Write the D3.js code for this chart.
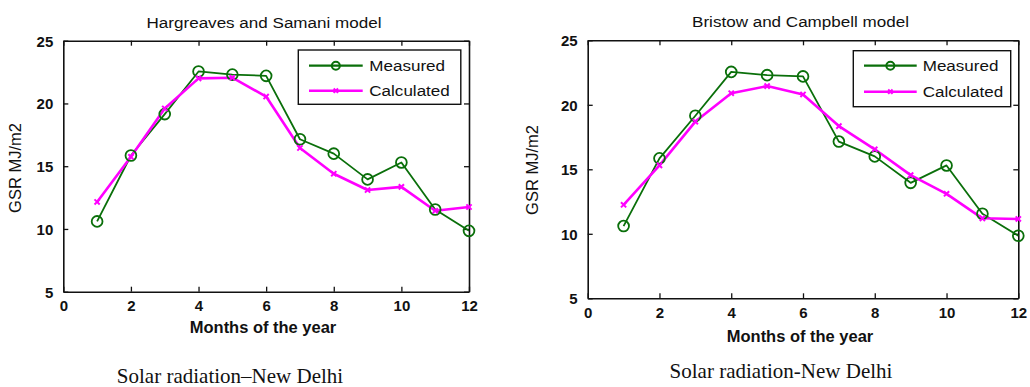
<!DOCTYPE html>
<html>
<head>
<meta charset="utf-8">
<script src="https://cdn.jsdelivr.net/npm/d3@7"></script>
<style>
  html, body { margin: 0; padding: 0; background: #ffffff; }
  svg { display: block; }
</style>
</head>
<body>
<svg id="chart" width="1030" height="387"></svg>
<script>
// ---------------- data ----------------
const months = [1, 2, 3, 4, 5, 6, 7, 8, 9, 10, 11, 12];
const measured = [10.6, 15.85, 19.15, 22.55, 22.3, 22.2, 17.15, 16.0, 13.95, 15.3, 11.55, 9.85];
const calcHargreaves = [12.15, 15.75, 19.6, 22.0, 22.05, 20.55, 16.45, 14.4, 13.1, 13.35, 11.45, 11.75];
const calcBristow = [12.25, 15.3, 18.7, 20.9, 21.45, 20.8, 18.35, 16.55, 14.55, 13.1, 11.2, 11.15];
const xTickValues = [0, 2, 4, 6, 8, 10, 12];
const yTickValues = [5, 10, 15, 20, 25];
const seriesNames = ["Measured", "Calculated"];
const titles = ["Hargreaves and Samani model", "Bristow and Campbell model"];
const captions = ["Solar radiation\u2013New Delhi", "Solar radiation-New Delhi"];
const xLabel = "Months of the year";
const yLabel = "GSR MJ/m2";

// ---------------- layout ----------------
const panels = [
  { calc: calcHargreaves, title: titles[0], caption: captions[0],
    L: 63.3, R: 469, T: 40.7, B: 291.7,
    titleX: 264, titleY: 27.7, capX: 230, capY: 383.3,
    xlX: 263, xlY: 333.3, ylX: 21, ylY: 168,
    leg: { x: 298.3, y: 50, w: 162.5, h: 54.3, l1: 309, l2: 362.7, tx: 369.3, y1: 65.7, y2: 90.7 } },
  { calc: calcBristow, title: titles[1], caption: captions[1],
    L: 587.7, R: 1018.3, T: 40.3, B: 298.3,
    titleX: 800.5, titleY: 26.7, capX: 781, capY: 378.3,
    xlX: 800, xlY: 342.3, ylX: 538, ylY: 170,
    leg: { x: 853.3, y: 50.7, w: 157.4, h: 56, l1: 864, l2: 916.7, tx: 922.7, y1: 65.7, y2: 91.7 } }
];

const GREEN = "#0a6f0a";
const MAGENTA = "#ff00ff";
const SANS = "'Liberation Sans', Arial, Helvetica, sans-serif";
const SERIF = "'Liberation Serif', 'Times New Roman', serif";

const svg = d3.select("#chart");

function txt(g, s, x, y, opts) {
  const o = Object.assign({ size: 15, weight: "normal", anchor: "middle", sx: 1, rot: 0, family: SANS }, opts || {});
  return g.append("text")
    .attr("transform", `translate(${x},${y}) rotate(${o.rot}) scale(${o.sx},1)`)
    .attr("text-anchor", o.anchor)
    .attr("font-family", o.family)
    .attr("font-size", o.size)
    .attr("font-weight", o.weight)
    .attr("fill", "#111")
    .text(s);
}

function xMarker(g, cx, cy, s) {
  g.append("path")
    .attr("d", `M${cx - s},${cy - s}L${cx + s},${cy + s}M${cx - s},${cy + s}L${cx + s},${cy - s}`)
    .attr("stroke", MAGENTA).attr("stroke-width", 2).attr("fill", "none");
}

panels.forEach(p => {
  const g = svg.append("g");
  const x = d3.scaleLinear().domain([0, 12]).range([p.L, p.R]);
  const y = d3.scaleLinear().domain([5, 25]).range([p.B, p.T]);

  // axes (ticks inward, box on)
  const styleAxis = sel => {
    sel.select(".domain").attr("stroke", "#111").attr("stroke-width", 1.6);
    sel.selectAll(".tick line").attr("stroke", "#111").attr("stroke-width", 1.3);
    sel.selectAll("text").attr("font-family", SANS).attr("font-size", 15)
      .attr("font-weight", "bold").attr("fill", "#111");
  };
  g.append("g").attr("transform", `translate(0,${p.B})`)
    .call(d3.axisBottom(x).tickValues(xTickValues).tickFormat(d3.format("d"))
      .tickSizeInner(-5).tickSizeOuter(0).tickPadding(9))
    .call(styleAxis);
  g.append("g").attr("transform", `translate(0,${p.T})`)
    .call(d3.axisTop(x).tickValues(xTickValues).tickFormat("")
      .tickSizeInner(-5).tickSizeOuter(0))
    .call(styleAxis);
  g.append("g").attr("transform", `translate(${p.L},0)`)
    .call(d3.axisLeft(y).tickValues(yTickValues).tickFormat(d3.format("d"))
      .tickSizeInner(-5).tickSizeOuter(0).tickPadding(10))
    .call(styleAxis)
    .selectAll("text").attr("dy", "0.36em");
  g.append("g").attr("transform", `translate(${p.R},0)`)
    .call(d3.axisRight(y).tickValues(yTickValues).tickFormat("")
      .tickSizeInner(-5).tickSizeOuter(0))
    .call(styleAxis);

  // lines
  const line = d3.line().x((d, i) => x(months[i])).y(d => y(d));
  g.append("path").datum(measured).attr("d", line)
    .attr("fill", "none").attr("stroke", GREEN).attr("stroke-width", 1.8)
    .attr("stroke-linejoin", "round");
  g.append("path").datum(p.calc).attr("d", line)
    .attr("fill", "none").attr("stroke", MAGENTA).attr("stroke-width", 2.6)
    .attr("stroke-linejoin", "round");

  // markers
  g.selectAll("circle.m").data(measured).enter().append("circle")
    .attr("class", "m")
    .attr("cx", (d, i) => x(months[i])).attr("cy", d => y(d)).attr("r", 5.4)
    .attr("fill", "none").attr("stroke", GREEN).attr("stroke-width", 1.8);
  p.calc.forEach((d, i) => xMarker(g, x(months[i]), y(d), 2.6));

  // titles & labels
  txt(g, p.title, p.titleX, p.titleY, { size: 15.5, sx: 1.1 });
  txt(g, xLabel, p.xlX, p.xlY, { size: 16, weight: "bold", sx: 1.03 });
  txt(g, yLabel, p.ylX, p.ylY, { size: 16.5, rot: -90 });
  txt(g, p.caption, p.capX, p.capY, { size: 21, family: SERIF });

  // legend
  const lg = p.leg;
  g.append("rect").attr("x", lg.x).attr("y", lg.y).attr("width", lg.w).attr("height", lg.h)
    .attr("fill", "#fff").attr("stroke", "#111").attr("stroke-width", 1.4);
  g.append("line").attr("x1", lg.l1).attr("x2", lg.l2).attr("y1", lg.y1).attr("y2", lg.y1)
    .attr("stroke", GREEN).attr("stroke-width", 2.2);
  g.append("circle").attr("cx", (lg.l1 + lg.l2) / 2).attr("cy", lg.y1).attr("r", 4)
    .attr("fill", "none").attr("stroke", GREEN).attr("stroke-width", 2);
  g.append("line").attr("x1", lg.l1).attr("x2", lg.l2).attr("y1", lg.y2).attr("y2", lg.y2)
    .attr("stroke", MAGENTA).attr("stroke-width", 2.6);
  xMarker(g, (lg.l1 + lg.l2) / 2, lg.y2, 2.2);
  txt(g, seriesNames[0], lg.tx, lg.y1 + 5.5, { size: 15.5, anchor: "start", sx: 1.1 });
  txt(g, seriesNames[1], lg.tx, lg.y2 + 5.5, { size: 15.5, anchor: "start", sx: 1.1 });
});
</script>
</body>
</html>
